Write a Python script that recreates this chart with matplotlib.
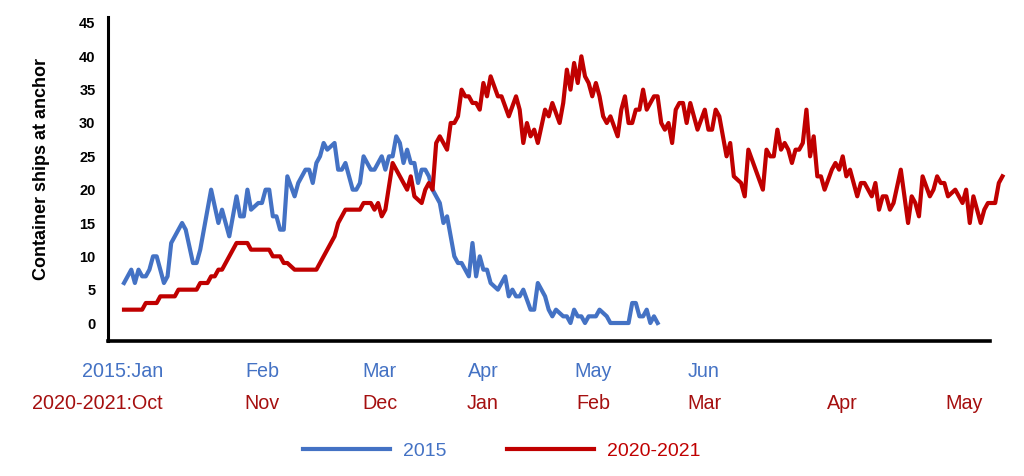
import matplotlib

matplotlib.use("Agg")
import matplotlib.pyplot as plt  # noqa: E402

plt.rcParams["font.family"] = ["Liberation Sans", "DejaVu Sans"]

BLUE = "#4472C4"
RED = "#C00000"

# days since start of period (2015: Jan 1, 2020-2021: Oct 1), ships at anchor
days_2015 = [0, 2, 3, 4, 5, 6, 7, 8, 9, 10, 11, 12, 13, 14, 16, 17, 19, 20, 21, 24,
             26, 27, 29, 31, 32, 33, 34, 35, 37, 38, 39, 40, 41, 42, 43, 44, 45, 47, 48, 50,
             51, 52, 53, 54, 55, 56, 58, 59, 60, 61, 63, 64, 65, 66, 68, 69, 71, 72, 73, 74,
             75, 76, 77, 78, 79, 80, 81, 82, 83, 84, 85, 86, 87, 88, 89, 90, 91, 92, 93, 95,
             96, 97, 98, 99, 100, 101, 103, 105, 106, 107, 108, 109, 110, 112, 113, 114, 116, 117, 118, 119,
             121, 122, 123, 124, 125, 126, 127, 128, 130, 131, 133, 134, 139, 140, 141, 142, 143, 144, 145, 146,
             147]
ships_2015 = [6, 8, 6, 8, 7, 7, 8, 10, 10, 8, 6, 7, 12, 13, 15, 14, 9, 9, 11, 20,
              15, 17, 13, 19, 16, 16, 20, 17, 18, 18, 20, 20, 16, 16, 14, 14, 22, 19, 21, 23,
              23, 21, 24, 25, 27, 26, 27, 23, 23, 24, 20, 20, 21, 25, 23, 23, 25, 23, 25, 25,
              28, 27, 24, 26, 24, 24, 21, 23, 23, 22, 20, 19, 18, 15, 16, 13, 10, 9, 9, 7,
              12, 7, 10, 8, 8, 6, 5, 7, 4, 5, 4, 4, 5, 2, 2, 6, 4, 2, 1, 2,
              1, 1, 0, 2, 1, 1, 0, 1, 1, 2, 1, 0, 0, 3, 3, 1, 1, 2, 0, 1,
              0]

days_2020 = [0, 5, 6, 9, 10, 14, 15, 20, 21, 23, 24, 25, 26, 27, 28, 29, 31, 34, 35, 40,
             41, 43, 44, 45, 47, 53, 54, 58, 59, 61, 65, 66, 68, 69, 70, 71, 72, 74, 76, 78,
             79, 80, 82, 83, 84, 85, 86, 87, 89, 90, 91, 92, 93, 94, 95, 96, 97, 98, 99, 100,
             101, 103, 104, 106, 108, 109, 110, 111, 112, 113, 114, 116, 117, 118, 120, 121, 122, 123, 124, 125,
             126, 127, 128, 129, 130, 131, 132, 133, 134, 136, 137, 138, 139, 140, 141, 142, 143, 144, 145, 146,
             147, 148, 149, 150, 151, 152, 153, 154, 155, 156, 158, 160, 161, 162, 163, 164, 166, 167, 168, 170,
             171, 172, 174, 176, 177, 178, 179, 180, 181, 182, 183, 184, 185, 186, 187, 188, 189, 190, 191, 192,
             193, 195, 196, 197, 198, 199, 200, 202, 203, 204, 206, 207, 208, 209, 210, 211, 212, 214, 216, 217,
             218, 219, 220, 222, 223, 224, 225, 226, 227, 229, 230, 231, 232, 233, 234, 235, 236, 237, 238, 240,
             241, 242]
ships_2020 = [2, 2, 3, 3, 4, 4, 5, 5, 6, 6, 7, 7, 8, 8, 9, 10, 12, 12, 11, 11,
              10, 10, 9, 9, 8, 8, 9, 13, 15, 17, 17, 18, 18, 17, 18, 16, 17, 24, 22, 20,
              22, 19, 18, 20, 21, 20, 27, 28, 26, 30, 30, 31, 35, 34, 34, 33, 33, 32, 36, 34,
              37, 34, 34, 31, 34, 32, 27, 30, 28, 29, 27, 32, 31, 33, 30, 33, 38, 35, 39, 36,
              40, 37, 36, 34, 36, 34, 31, 30, 31, 28, 32, 34, 30, 30, 32, 32, 35, 32, 33, 34,
              34, 30, 29, 30, 27, 32, 33, 33, 30, 33, 29, 32, 29, 29, 32, 31, 25, 27, 22, 21,
              19, 26, 23, 20, 26, 25, 25, 29, 26, 27, 26, 24, 26, 26, 27, 32, 25, 28, 22, 22,
              20, 23, 24, 23, 25, 22, 23, 19, 21, 21, 19, 21, 17, 19, 19, 17, 18, 23, 15, 19,
              18, 16, 22, 19, 20, 22, 21, 21, 19, 20, 19, 18, 20, 15, 19, 17, 15, 17, 18, 18,
              21, 22]

month_days = [10.7, 38.0, 70.5, 98.9, 129.2, 159.8, 197.8, 231.4]
months_2015 = ["2015:Jan", "Feb", "Mar", "Apr", "May", "Jun"]
months_2020 = ["2020-2021:Oct", "Nov", "Dec", "Jan", "Feb", "Mar", "Apr", "May"]

fig = plt.figure(figsize=(10.24, 4.76), dpi=100)
ax = fig.add_axes([0.1055, 0.2836, 0.877, 0.6807])

ax.plot(days_2015, ships_2015, color=BLUE, lw=3.0, label="2015", solid_joinstyle="round")
ax.plot(days_2020, ships_2020, color=RED, lw=3.0, label="2020-2021", solid_joinstyle="round",
        clip_on=False)

ax.set_xlim(-4.4, 243)
ax.set_ylim(-2.7, 45.9)
ax.set_yticks(range(0, 50, 5))
ax.set_xticks([])
ax.tick_params(axis="y", length=0, pad=9, labelsize=10.5)
for lab in ax.get_yticklabels():
    lab.set_fontweight("bold")

for side in ["top", "right"]:
    ax.spines[side].set_visible(False)
ax.spines["left"].set_linewidth(2.2)
ax.spines["bottom"].set_linewidth(2.6)
ax.spines["bottom"].set_bounds(-4.4, 238.6)

ax.set_ylabel("Container ships at anchor", fontsize=13, fontweight="bold")
ax.yaxis.set_label_coords(-0.0646, 0.531)

for i, name in enumerate(months_2015):
    ha = "right" if i == 0 else "center"
    ax.text(month_days[i], -7.2, name, color=BLUE, fontsize=14.2, ha=ha, va="center",
            clip_on=False)
for i, name in enumerate(months_2020):
    ha = "right" if i == 0 else "center"
    ax.text(month_days[i], -12.0, name, color="#A50F0F", fontsize=14.2, ha=ha, va="center",
            clip_on=False)

fig.legend(loc="center", bbox_to_anchor=(0.49, 0.0525), ncol=2, frameon=False,
           fontsize=14, handlelength=4.5, handletextpad=0.65, columnspacing=3.1,
           labelcolor="linecolor")

fig.savefig("out.png", dpi=100)
